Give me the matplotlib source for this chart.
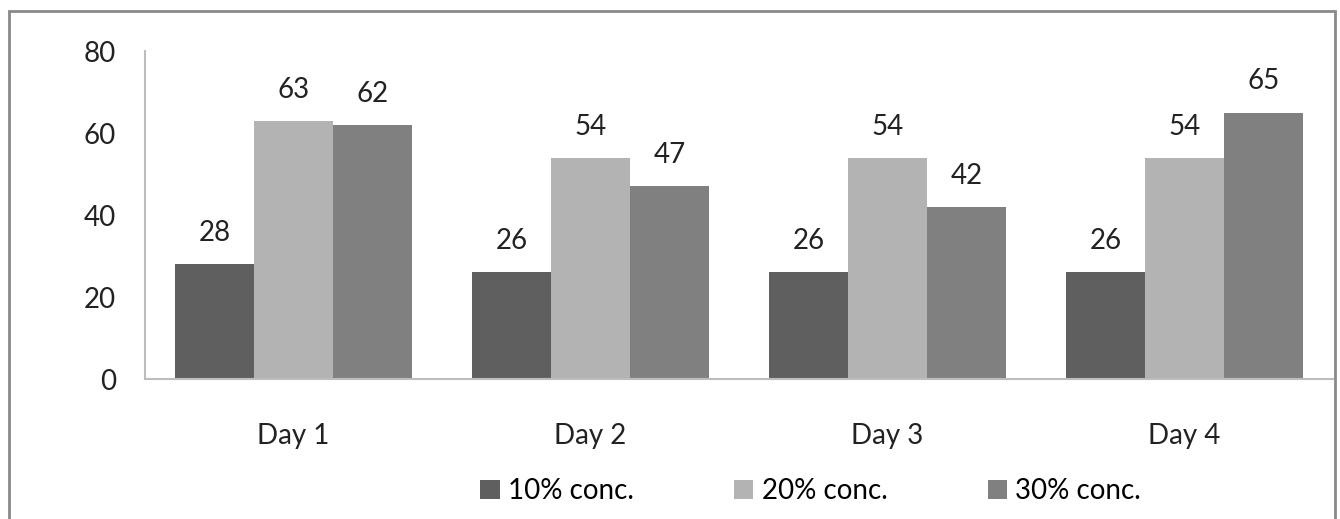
import numpy as np
import matplotlib.pyplot as plt
from matplotlib.patches import Rectangle

plt.rcParams['font.family'] = ['Lato', 'DejaVu Sans']

days = ['Day 1', 'Day 2', 'Day 3', 'Day 4']
conc_10 = [28, 26, 26, 26]
conc_20 = [63, 54, 54, 54]
conc_30 = [62, 47, 42, 65]
series_names = ['10% conc.', '20% conc.', '30% conc.']
colors = ['#5f5f5f', '#b3b3b3', '#808080']

fig = plt.figure(figsize=(13.4, 5.19), dpi=100)
ax = fig.add_axes([0.1082, 0.2697, 0.8866, 0.632])

x = np.arange(len(days))
width = 0.266
handles = []
for i, (vals, name, c) in enumerate(zip([conc_10, conc_20, conc_30], series_names, colors)):
    bars = ax.bar(x + (i - 1) * width, vals, width, color=c, label=name)
    handles.append(bars)
    for b, v in zip(bars, vals):
        ax.annotate(str(v), (b.get_x() + b.get_width() / 2, v),
                    xytext=(0, 13), textcoords='offset points',
                    ha='center', va='bottom', fontsize=20, color='#222222')

ax.set_xlim(-0.5, 3.5)
ax.set_ylim(0, 80)
ax.set_yticks([0, 20, 40, 60, 80])
ax.set_xticks(x)
ax.set_xticklabels(days)
ax.tick_params(axis='both', length=0, labelsize=20, colors='#222222')
ax.tick_params(axis='y', pad=21)
ax.tick_params(axis='x', pad=32)
for s in ['top', 'right']:
    ax.spines[s].set_visible(False)
for s in ['left', 'bottom']:
    ax.spines[s].set_color('#bdbdbd')
    ax.spines[s].set_linewidth(1.5)

# chart frame
fig.patches.append(Rectangle((0.007, -0.1), 0.989, 1.079, transform=fig.transFigure,
                             fill=False, edgecolor='#8a8a8a', linewidth=2))

fig.legend(handles=handles, loc='center', bbox_to_anchor=(0.605, 0.054), ncol=3,
           frameon=False, fontsize=20, handlelength=0.7, handleheight=0.7,
           handletextpad=0.3, columnspacing=3.6)

fig.savefig('out.png', dpi=100)
